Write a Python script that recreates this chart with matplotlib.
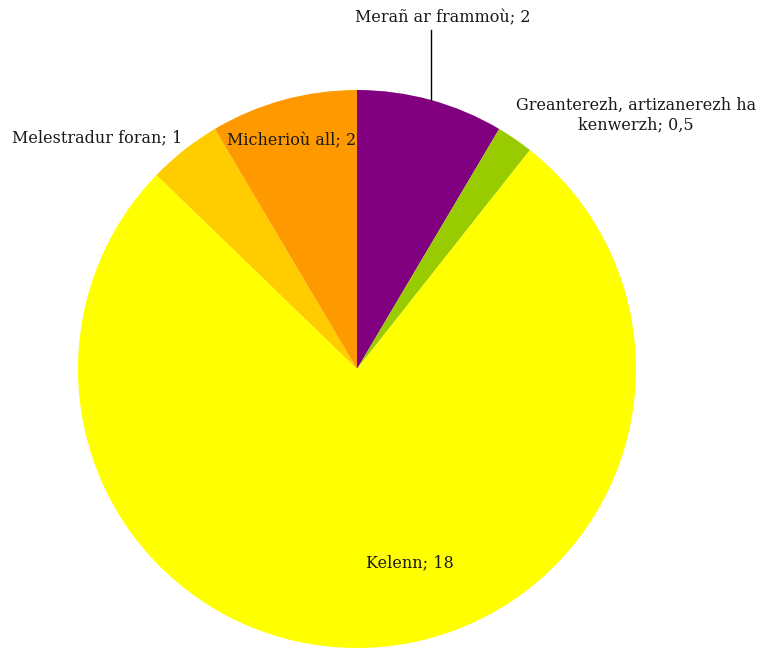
import matplotlib
matplotlib.use("Agg")
import matplotlib.pyplot as plt

labels = ["Merañ ar frammoù", "Greanterezh, artizanerezh ha kenwerzh", "Kelenn", "Melestradur foran", "Micherioù all"]
display_labels = ["Merañ ar frammoù; 2", "Greanterezh, artizanerezh ha\nkenwerzh; 0,5", "Kelenn; 18", "Melestradur foran; 1", "Micherioù all; 2"]
values = [2, 0.5, 18, 1, 2]
colors = ["#800080", "#99CC00", "#FFFF00", "#FFCC00", "#FF9900"]

W, H = 757, 649
fig = plt.figure(figsize=(W / 100, H / 100), dpi=100)
ax = fig.add_axes([0, 0, 1, 1])

cx, cy, r = 357, H - 369, 279
ax.pie(values, colors=colors, startangle=90, counterclock=False,
       center=(cx, cy), radius=r, frame=True,
       wedgeprops=dict(linewidth=0))
ax.set_xlim(0, W)
ax.set_ylim(0, H)
ax.set_aspect("equal")
ax.axis("off")

font = dict(family="DejaVu Serif", fontsize=11.5, color="#1a1a1a")
ax.text(443, H - 18, display_labels[0], ha="center", va="center", **font)
ax.plot([431, 431], [H - 30, H - 100], color="black", lw=1)
ax.text(636, H - 115, display_labels[1], ha="center", va="center", linespacing=1.25, **font)
ax.text(410, H - 563, display_labels[2], ha="center", va="center", **font)
ax.text(12, H - 138, display_labels[3], ha="left", va="center", **font)
ax.text(292, H - 141, display_labels[4], ha="center", va="center", **font)

fig.savefig("out.png", dpi=100)
